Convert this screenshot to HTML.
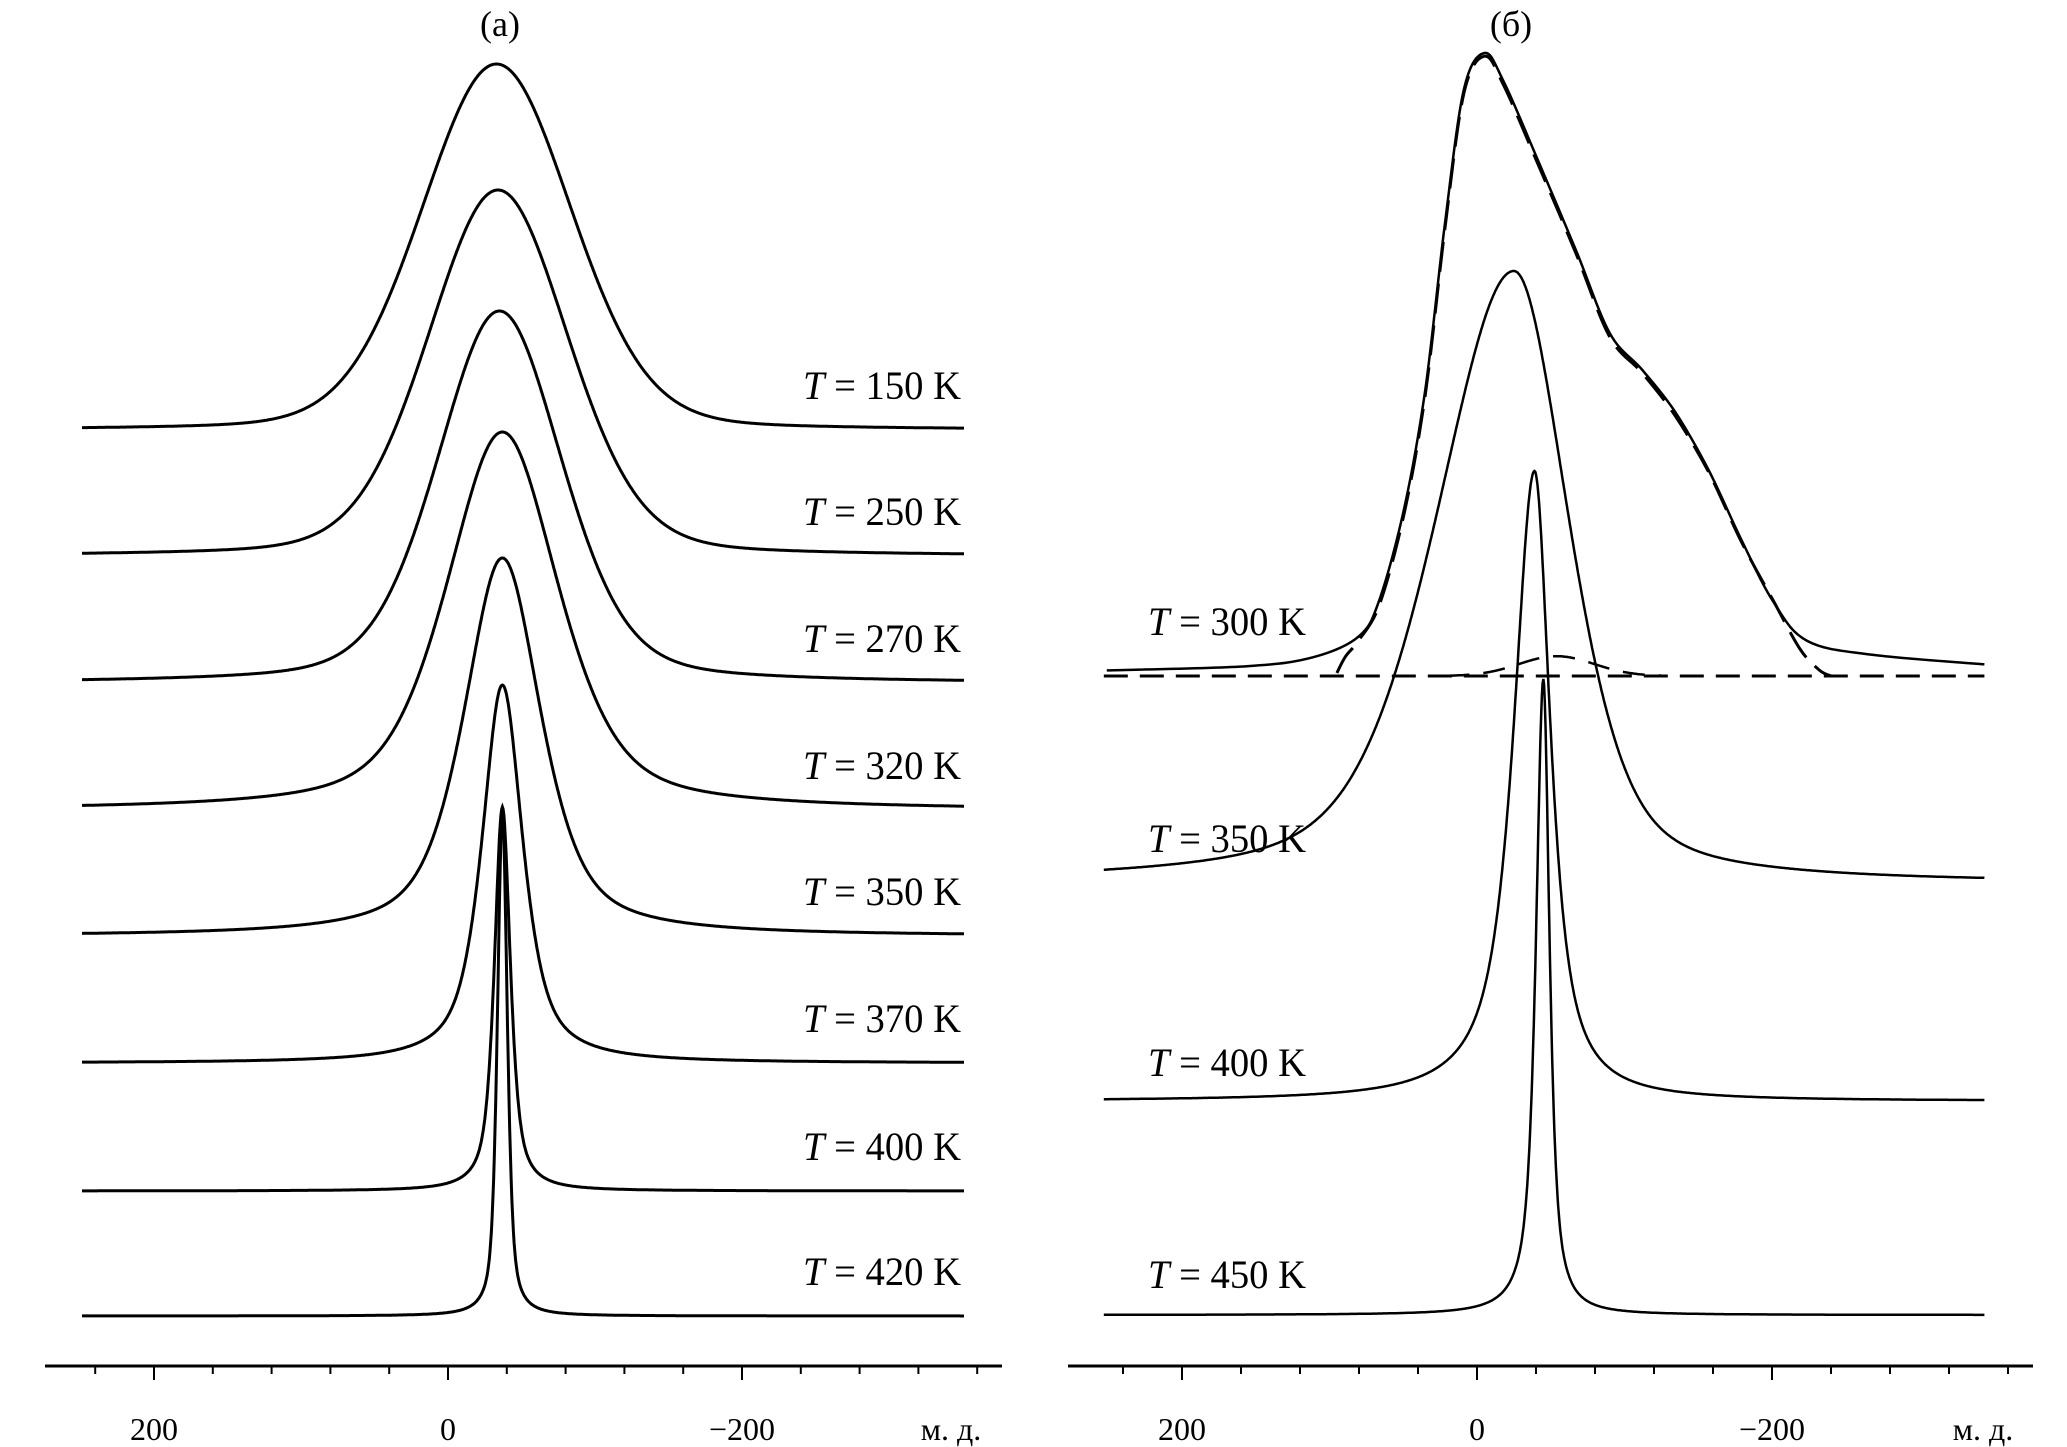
<!DOCTYPE html>
<html><head><meta charset="utf-8"><style>
html,body{margin:0;padding:0;background:#fff;}
svg{display:block;}
text{font-family:"Liberation Serif",serif;fill:#000;}
</style></head><body>
<svg id="chart" width="2067" height="1447" viewBox="0 0 2067 1447" xmlns="http://www.w3.org/2000/svg"></svg>
<script>
// ---- data: panel (a) ----
const tempsA = [150, 250, 270, 320, 350, 370, 400, 420];
const centersA = [-33, -34, -35, -37, -37, -37, -37, -37];
const heightsA = [61, 61, 62, 63, 63, 63, 64, 84];
const fwhmA = [120, 112, 100, 90, 62, 33, 13, 8];
const etaA = [0.15, 0.2, 0.3, 0.5, 0.6, 0.7, 0.7, 0.6];
// ---- data: panel (б) ----
const tempsB = [350, 400, 450];
const centersB = [-25, -39, -45];
const heightsB = [102, 105, 106];
const fwhmLB = [88, 26, 10];
const fwhmRB = [125, 34, 12];
const etaB = [0.45, 0.85, 0.8];
const ppm300 = [251, 156, 111, 80, 66, 49, 35, 22, 9, -5, -18, -41, -67, -90, -112, -134, -157, -179, -201, -224, -268, -344];
const int300 = [0.6, 1.3, 2.8, 6.3, 12.5, 28.0, 47.5, 74.5, 97.3, 103.5, 98.8, 85.8, 70.7, 56.8, 50.7, 43.8, 34, 22.5, 12.0, 5.5, 3.2, 1.6];
const ppmFit = [95, 89, 80, 66, 49, 35, 22, 9, -5, -18, -41, -67, -90, -112, -134, -157, -179, -201, -219, -232, -240];
const intFit = [0.5, 3.3, 6.0, 12.0, 27.5, 47.0, 74.0, 97.0, 103.3, 98.5, 85.5, 70.5, 56.5, 50.5, 43.5, 34, 22.5, 12.5, 4.5, 1, 0];
const smallCenter = -54, smallHeight = 3.3, smallFwhm = 60;
const tickValues = [240, 200, 160, 120, 80, 40, 0, -40, -80, -120, -160, -200, -240, -280, -320, -360];
const tickLabels = ["200", "0", "\u2212200"];
const tickLabelVals = [200, 0, -200];

// ---- layout ----
const NS = "http://www.w3.org/2000/svg";
const svg = document.getElementById('chart');
const YK = 6;
const xA = p => 448 - p * 1.47;
const xB = p => 1477 - p * 1.475;
const baseA = [430, 556, 683, 810, 936, 1063, 1191, 1316];
const baseB = [883, 1101, 1315];
const base300 = 674, baseFit = 676;

function el(tag, attrs, parent) {
  const e = document.createElementNS(NS, tag);
  for (const k in attrs) e.setAttribute(k, attrs[k]);
  (parent || svg).appendChild(e);
  return e;
}
function pv(x, c, wl, wr, eta) {
  const w = x >= c ? wr : wl;
  const d = x - c;
  const g = Math.exp(-4 * Math.LN2 * d * d / (w * w));
  const l = 1 / (1 + 4 * d * d / (w * w));
  return eta * l + (1 - eta) * g;
}
function curvePath(xf, base, c, h, wl, wr, eta, p0, p1) {
  let d = '';
  for (let p = p0; p >= p1; p -= 0.5) {
    const y = base - h * YK * pv(p, c, wl, wr, eta);
    d += (d ? 'L' : 'M') + xf(p).toFixed(1) + ',' + y.toFixed(1);
  }
  return d;
}
function splinePath(xf, base, ps, vs) {
  const pts = ps.map((p, i) => [xf(p), base - vs[i] * YK]);
  let d = 'M' + pts[0][0].toFixed(1) + ',' + pts[0][1].toFixed(1);
  for (let i = 0; i < pts.length - 1; i++) {
    const p0 = pts[Math.max(0, i - 1)], p1 = pts[i], p2 = pts[i + 1], p3 = pts[Math.min(pts.length - 1, i + 2)];
    const c1 = [p1[0] + (p2[0] - p0[0]) / 6, p1[1] + (p2[1] - p0[1]) / 6];
    const c2 = [p2[0] - (p3[0] - p1[0]) / 6, p2[1] - (p3[1] - p1[1]) / 6];
    d += 'C' + c1[0].toFixed(1) + ',' + c1[1].toFixed(1) + ' ' + c2[0].toFixed(1) + ',' + c2[1].toFixed(1) + ' ' + p2[0].toFixed(1) + ',' + p2[1].toFixed(1);
  }
  return d;
}
function label(x, y, tval, anchorEnd) {
  const t = el('text', {x: anchorEnd ? x - 158 : x, y: y, 'font-size': 40, textLength: 158, lengthAdjust: 'spacingAndGlyphs'});
  const ti = el('tspan', {'font-style': 'italic'}, t);
  ti.textContent = 'T';
  const tr = el('tspan', {}, t);
  tr.textContent = ' = ' + tval + ' K';
  return t;
}

// titles
let t = el('text', {x: 500, y: 36, 'font-size': 36, 'text-anchor': 'middle'});


t.textContent = '(a)';
t = el('text', {x: 1511, y: 36, 'font-size': 36, 'text-anchor': 'middle'});


t.textContent = '(\u0431)';

// panel a spectra
tempsA.forEach((T, i) => {
  const p = el('path', {d: curvePath(xA, baseA[i], centersA[i], heightsA[i], fwhmA[i], fwhmA[i], etaA[i], 249, -351), fill: 'none', stroke: '#000', 'stroke-width': 3});
  
  
  const lb = label(961, baseA[i] - 31, T, true);
  
  
});

// panel б: 300 K
let p = el('path', {d: splinePath(xB, base300, ppm300, int300), fill: 'none', stroke: '#000', 'stroke-width': 2.5});


p = el('path', {d: splinePath(xB, baseFit, ppmFit, intFit), fill: 'none', stroke: '#000', 'stroke-width': 3, 'stroke-dasharray': '30 12'});


p = el('path', {d: curvePath(xB, baseFit, smallCenter, smallHeight, smallFwhm, smallFwhm, 0, 20, -125), fill: 'none', stroke: '#000', 'stroke-width': 2.5, 'stroke-dasharray': '22 14'});


p = el('line', {x1: xB(253), x2: xB(-344), y1: baseFit, y2: baseFit, stroke: '#000', 'stroke-width': 3, 'stroke-dasharray': '24 12'});


let lb = label(1148, 635, 300, false);



const labYB = [852, 1076, 1288];
tempsB.forEach((T, i) => {
  const q = el('path', {d: curvePath(xB, baseB[i], centersB[i], heightsB[i], fwhmLB[i], fwhmRB[i], etaB[i], 253, -344), fill: 'none', stroke: '#000', 'stroke-width': 2.5});
  
  
  const l = label(1148, labYB[i], T, false);
  
  
});

// axes
function axis(xf, x0, x1, name, unitX) {
  const g = el('g', {});
  
  
  el('line', {x1: x0, x2: x1, y1: 1366, y2: 1366, stroke: '#000', 'stroke-width': 3}, g);
  tickValues.forEach(v => {
    const major = tickLabelVals.indexOf(v) >= 0;
    const tk = el('line', {x1: xf(v), x2: xf(v), y1: 1366, y2: major ? 1380 : 1374, stroke: '#000', 'stroke-width': 2}, g);
    
    
  });
  tickLabelVals.forEach((v, i) => {
    const tx = el('text', {x: xf(v), y: 1440, 'font-size': 32, 'text-anchor': 'middle'}, g);
    
    
    tx.textContent = tickLabels[i];
  });
  const u = el('text', {x: unitX, y: 1440, 'font-size': 32, 'text-anchor': 'middle'}, g);
  
  
  u.textContent = '\u043c. \u0434.';
}
axis(xA, 45, 1002, 'x-axis-a', 951);
axis(xB, 1068, 2033, 'x-axis-b', 1983);
</script>
</body></html>
